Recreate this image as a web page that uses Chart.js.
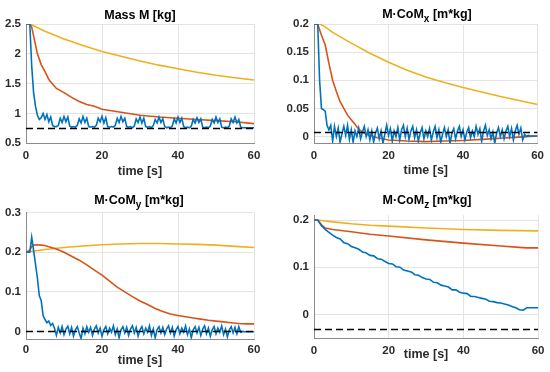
<!DOCTYPE html>
<html>
<head>
<meta charset="utf-8">
<script src="https://cdn.jsdelivr.net/npm/chart.js@4.4.1/dist/chart.umd.min.js"></script>
<style>
  body { margin: 0; background: #fff; }
  #wrap { position: relative; width: 550px; height: 372px; background: #fff; }
  canvas { position: absolute; }
  .ttl {
    position: absolute; transform: translate(-50%, -50%);
    font: bold 12.5px "Liberation Sans", Arial, sans-serif; color: #000; white-space: nowrap;
  }
  .ttl sub { font-size: 10px; vertical-align: -4px; line-height: 0; }
</style>
</head>
<body>
<div id="wrap">
  <canvas id="c1" width="275" height="186" style="left:0;top:0"></canvas>
  <canvas id="c2" width="275" height="186" style="left:275px;top:0"></canvas>
  <canvas id="c3" width="275" height="186" style="left:0;top:186px"></canvas>
  <canvas id="c4" width="275" height="186" style="left:275px;top:186px"></canvas>
  <div class="ttl" style="left:140px;top:15px">Mass M [kg]</div>
  <div class="ttl" style="left:427px;top:14px">M·CoM<sub>x</sub> [m*kg]</div>
  <div class="ttl" style="left:139px;top:200px">M·CoM<sub>y</sub> [m*kg]</div>
  <div class="ttl" style="left:427px;top:200px">M·CoM<sub>z</sub> [m*kg]</div>
</div>
<script>
// time grid of the noisy blue runs (0.5 s samples)
const tFine = [];
for (let i = 0; i <= 120; i++) tFine.push(i * 0.5);

const xTicks = [0, 20, 40, 60];
const xLabels = ['0', '20', '40', '60'];

// Mass M
const massBlue = [2.5, 2.5, 2.5, 1.8, 1.35, 1.12, 0.97, 0.9, 0.93, 1.0, 0.9, 0.98, 0.86, 0.94, 0.8, 0.78, 0.78, 0.8,
  0.92, 0.85, 0.95, 0.86, 0.94, 0.79, 0.77, 0.78, 0.77, 0.8, 0.91, 0.84, 0.95, 0.85, 0.92, 0.78, 0.77, 0.78,
  0.77, 0.8, 0.92, 0.86, 0.95, 0.84, 0.93, 0.78, 0.77, 0.78, 0.77, 0.8, 0.92, 0.85, 0.95, 0.86, 0.92, 0.78,
  0.77, 0.78, 0.76, 0.79, 0.91, 0.85, 0.94, 0.84, 0.92, 0.78, 0.77, 0.78, 0.76, 0.8, 0.9, 0.84, 0.94, 0.85,
  0.91, 0.78, 0.76, 0.77, 0.76, 0.79, 0.91, 0.84, 0.94, 0.85, 0.92, 0.78, 0.76, 0.77, 0.76, 0.79, 0.9, 0.84,
  0.93, 0.85, 0.91, 0.77, 0.76, 0.77, 0.76, 0.79, 0.9, 0.84, 0.94, 0.85, 0.91, 0.77, 0.76, 0.77, 0.76, 0.79,
  0.91, 0.85, 0.94, 0.84, 0.9, 0.77, 0.76, 0.76, 0.76, 0.76, 0.76, 0.76, 0.76];
const massRedT = [0, 1, 1.5, 2, 3, 4, 5, 6, 8, 10, 12, 14, 16, 18, 20, 25, 30, 35, 40, 45, 50, 55, 60];
const massRed = [2.5, 2.5, 2.45, 2.3, 2.0, 1.82, 1.7, 1.57, 1.42, 1.35, 1.27, 1.2, 1.15, 1.12, 1.07, 1.02, 0.97, 0.94, 0.92, 0.9, 0.88, 0.86, 0.83];
const massYellowT = [0, 1, 2, 5, 10, 15, 20, 25, 30, 35, 40, 45, 50, 55, 60];
const massYellow = [2.5, 2.5, 2.47, 2.38, 2.25, 2.14, 2.04, 1.96, 1.88, 1.81, 1.75, 1.69, 1.64, 1.6, 1.56];
const massRef = 0.75;
const massYTicks = [0.5, 1, 1.5, 2, 2.5];
const massYLabels = ['0.5', '1', '1.5', '2', '2.5'];

// M*CoM x
const comxBlue = [0.2, 0.2, 0.2, 0.1, 0.05, 0.048, 0.045, 0.02, 0.012, 0.02, -0.008, 0.018, 0.0, 0.015, -0.01, 0.005,
  0.018, 0.002, 0.02, -0.005, 0.012, -0.01, 0.01, 0.0, 0.015, -0.004, 0.008, 0.018, 0.0, 0.012, -0.006, 0.01,
  -0.01, 0.006, 0.015, -0.004, 0.01, -0.012, 0.004, 0.02, 0.002, 0.014, -0.008, 0.01, 0.0, 0.016, -0.006, 0.012,
  0.02, 0.0, 0.015, -0.005, 0.01, 0.018, -0.002, 0.012, -0.008, 0.006, 0.016, -0.004, 0.01, 0.0, 0.014, -0.006,
  0.008, 0.018, -0.002, 0.012, -0.01, 0.004, 0.016, 0.0, 0.012, -0.012, 0.006, 0.014, -0.004, 0.01, 0.018, 0.0,
  0.012, -0.006, 0.008, 0.016, -0.002, 0.01, 0.0, 0.018, 0.004, 0.014, -0.008, 0.01, 0.02, 0.002, 0.012, -0.004,
  0.008, -0.012, 0.006, 0.016, 0.0, 0.012, -0.004, 0.01, 0.018, 0.0, 0.014, -0.006, 0.01, 0.02, 0.004, 0.015,
  -0.006, 0.004, 0.0, 0.002, 0.001, 0.001, 0.001, 0.001, 0.001];
const comxRedT = [0, 1, 1.5, 2, 3, 4, 5, 6, 7, 8, 9, 10, 11, 12, 13, 14, 15, 17, 20, 25, 30, 35, 40, 45, 50, 55, 60];
const comxRed = [0.2, 0.2, 0.19, 0.18, 0.163, 0.13, 0.1, 0.08, 0.062, 0.05, 0.038, 0.03, 0.022, 0.013, 0.008, 0.004,
  0.002, -0.002, -0.006, -0.008, -0.009, -0.008, -0.007, -0.005, -0.003, -0.001, 0.001];
const comxYellowT = [0, 1.5, 3, 5, 10, 15, 20, 25, 30, 35, 40, 45, 50, 55, 60];
const comxYellow = [0.2, 0.2, 0.195, 0.185, 0.166, 0.148, 0.132, 0.118, 0.106, 0.096, 0.087, 0.079, 0.071, 0.064, 0.057];
const comxRef = 0.007;
const comxYTicks = [0, 0.05, 0.1, 0.15, 0.2];
const comxYLabels = ['0', '0.05', '0.1', '0.15', '0.2'];

// M*CoM y
const comyBlue = [0.2, 0.2, 0.2, 0.238, 0.205, 0.17, 0.135, 0.09, 0.078, 0.04, 0.03, 0.022, 0.026, 0.015, 0.02, 0.008,
  -0.01, 0.01, -0.004, 0.012, -0.008, 0.006, 0.013, -0.006, 0.01, -0.012, 0.004, 0.012, -0.004, -0.018, 0.008, -0.006,
  0.012, -0.002, 0.01, -0.01, 0.006, 0.014, -0.004, 0.008, -0.012, 0.004, 0.012, -0.006, 0.008, -0.002, 0.014, -0.008,
  0.006, -0.016, 0.004, 0.012, -0.004, 0.01, -0.01, 0.006, 0.014, -0.004, 0.01, -0.012, 0.004, 0.012, -0.006, 0.008,
  -0.002, 0.014, -0.01, 0.006, -0.016, 0.004, 0.012, -0.004, 0.01, -0.008, 0.006, 0.014, -0.004, 0.01, -0.012, 0.004,
  0.012, -0.006, 0.008, -0.002, 0.014, -0.008, 0.006, -0.016, 0.004, 0.012, -0.004, 0.01, -0.01, 0.006, 0.014, -0.006,
  0.008, -0.012, 0.004, 0.012, -0.006, 0.008, -0.002, 0.014, -0.008, 0.006, -0.014, 0.004, 0.012, -0.004, 0.01, -0.006,
  0.012, -0.002, 0.0, -0.001, -0.001, -0.001, -0.001, -0.001, -0.001];
const comyRedT = [0, 1, 1.5, 2, 3, 4, 5, 6, 8, 10, 12, 14, 16, 18, 20, 22, 24, 26, 28, 30, 32, 34, 36, 38, 40, 42, 44, 46, 48, 50, 52, 54, 56, 58, 60];
const comyRed = [0.2, 0.205, 0.215, 0.218, 0.219, 0.218, 0.217, 0.214, 0.208, 0.2, 0.19, 0.18, 0.168, 0.155, 0.142,
  0.127, 0.112, 0.1, 0.088, 0.077, 0.068, 0.058, 0.05, 0.044, 0.04, 0.037, 0.034, 0.031, 0.028, 0.026, 0.024, 0.022,
  0.02, 0.019, 0.019];
const comyYellowT = [0, 2, 5, 10, 15, 20, 25, 30, 35, 40, 45, 50, 55, 60];
const comyYellow = [0.2, 0.203, 0.207, 0.212, 0.216, 0.219, 0.221, 0.222, 0.222, 0.221, 0.22, 0.218, 0.215, 0.212];
const comyRef = 0;
const comyYTicks = [0, 0.1, 0.2, 0.3];
const comyYLabels = ['0', '0.1', '0.2', '0.3'];

// M*CoM z (1 s samples for blue)
const comzBlueT = [0, 1, 2, 3, 4, 5, 6, 7, 8, 9, 10, 11, 12, 13, 14, 15, 16, 17, 18, 19, 20, 21, 22, 23, 24, 25, 26, 27, 28, 29, 30,
  31, 32, 33, 34, 35, 36, 37, 38, 39, 40, 41, 42, 43, 44, 45, 46, 47, 48, 49, 50, 51, 52, 53, 54, 55, 56, 57, 58, 59, 60];
const comzBlue = [0.2, 0.2, 0.188, 0.18, 0.174, 0.168, 0.163, 0.16, 0.152, 0.15, 0.144, 0.141, 0.138, 0.132, 0.13, 0.125,
  0.124, 0.118, 0.117, 0.112, 0.108, 0.107, 0.101, 0.1, 0.094, 0.092, 0.09, 0.084, 0.083, 0.078, 0.075, 0.074, 0.068,
  0.067, 0.062, 0.06, 0.058, 0.052, 0.052, 0.047, 0.045, 0.044, 0.038, 0.038, 0.036, 0.034, 0.032, 0.028, 0.027, 0.025,
  0.024, 0.022, 0.02, 0.017, 0.014, 0.01, 0.009, 0.014, 0.014, 0.014, 0.014];
const comzRedT = [0, 1, 2, 3, 5, 10, 15, 20, 30, 40, 50, 55, 57, 60];
const comzRed = [0.2, 0.2, 0.19, 0.183, 0.18, 0.175, 0.17, 0.166, 0.158, 0.151, 0.145, 0.142, 0.141, 0.141];
const comzYellowT = [0, 2, 5, 10, 15, 20, 30, 40, 50, 60];
const comzYellow = [0.2, 0.199, 0.196, 0.192, 0.189, 0.187, 0.183, 0.18, 0.178, 0.177];
const comzRef = -0.032;
const comzYTicks = [0, 0.1, 0.2];
const comzYLabels = ['0', '0.1', '0.2'];

function pts(t, v) {
  return v.map((y, i) => ({ x: t[i], y: y }));
}

function makePlot(id, p) {
  var tickFont = { family: '"Liberation Sans", Arial, sans-serif', size: 11.5, weight: 'bold' };
  var ctx = document.getElementById(id).getContext('2d');
  return new Chart(ctx, {
    type: 'line',
    data: {
      datasets: [
        { data: [{ x: 0, y: p.ref }, { x: 60, y: p.ref }], borderColor: '#000', borderWidth: 1.5, borderDash: [7, 4] },
        { data: p.blue, borderColor: '#0072BD', borderWidth: 1.6 },
        { data: p.red, borderColor: '#D95319', borderWidth: 1.6 },
        { data: p.yellow, borderColor: '#EDB120', borderWidth: 1.6 }
      ]
    },
    options: {
      responsive: false,
      animation: false,
      devicePixelRatio: 1,
      elements: { point: { radius: 0 }, line: { tension: 0 } },
      layout: { padding: { left: 0, right: p.padRight, top: p.padTop, bottom: 0 } },
      plugins: { legend: { display: false }, tooltip: { enabled: false } },
      scales: {
        x: {
          type: 'linear', min: 0, max: 60,
          afterBuildTicks: s => { s.ticks = xTicks.map(v => ({ value: v })); },
          afterFit: s => { s.height = p.xHeight; },
          grid: { color: '#e3e3e3', drawTicks: false },
          border: { color: '#8c8c8c', width: 1 },
          ticks: { padding: p.xTickPad, color: '#2b2b2b', font: tickFont, maxRotation: 0,
            callback: (v, i) => xLabels[xTicks.indexOf(v)] },
          title: { display: true, text: 'time [s]', color: '#2b2b2b',
            font: { family: '"Liberation Sans", Arial, sans-serif', size: 12.5, weight: 'bold' },
            padding: { top: 0, bottom: p.xTitlePad } }
        },
        y: {
          min: p.yMin, max: p.yMax,
          afterBuildTicks: s => { s.ticks = p.yTicks.map(v => ({ value: v })); },
          afterFit: s => { s.width = p.yWidth; },
          grid: { color: '#e3e3e3', drawTicks: false },
          border: { color: '#8c8c8c', width: 1 },
          ticks: { padding: 5, color: '#2b2b2b', font: tickFont,
            callback: v => p.yLabels[p.yTicks.indexOf(v)] }
        }
      }
    }
  });
}

makePlot('c1', {
  blue: pts(tFine, massBlue), red: pts(massRedT, massRed), yellow: pts(massYellowT, massYellow), ref: massRef,
  yMin: 0.5, yMax: 2.5, yTicks: massYTicks, yLabels: massYLabels,
  yWidth: 26, padRight: 21, padTop: 24, xHeight: 42.7, xTickPad: 6, xTitlePad: 6.5
});
makePlot('c2', {
  blue: pts(tFine, comxBlue), red: pts(comxRedT, comxRed), yellow: pts(comxYellowT, comxYellow), ref: comxRef,
  yMin: -0.012, yMax: 0.2, yTicks: comxYTicks, yLabels: comxYLabels,
  yWidth: 39, padRight: 11, padTop: 24, xHeight: 42.7, xTickPad: 6, xTitlePad: 8
});
makePlot('c3', {
  blue: pts(tFine, comyBlue), red: pts(comyRedT, comyRed), yellow: pts(comyYellowT, comyYellow), ref: comyRef,
  yMin: -0.02, yMax: 0.3, yTicks: comyYTicks, yLabels: comyYLabels,
  yWidth: 26, padRight: 21, padTop: 26.7, xHeight: 32.7, xTickPad: 4, xTitlePad: 3.5
});
makePlot('c4', {
  blue: pts(comzBlueT, comzBlue), red: pts(comzRedT, comzRed), yellow: pts(comzYellowT, comzYellow), ref: comzRef,
  yMin: -0.05, yMax: 0.21, yTicks: comzYTicks, yLabels: comzYLabels,
  yWidth: 39, padRight: 11, padTop: 29.3, xHeight: 34, xTickPad: 5.5, xTitlePad: 10
});
</script>
</body>
</html>
